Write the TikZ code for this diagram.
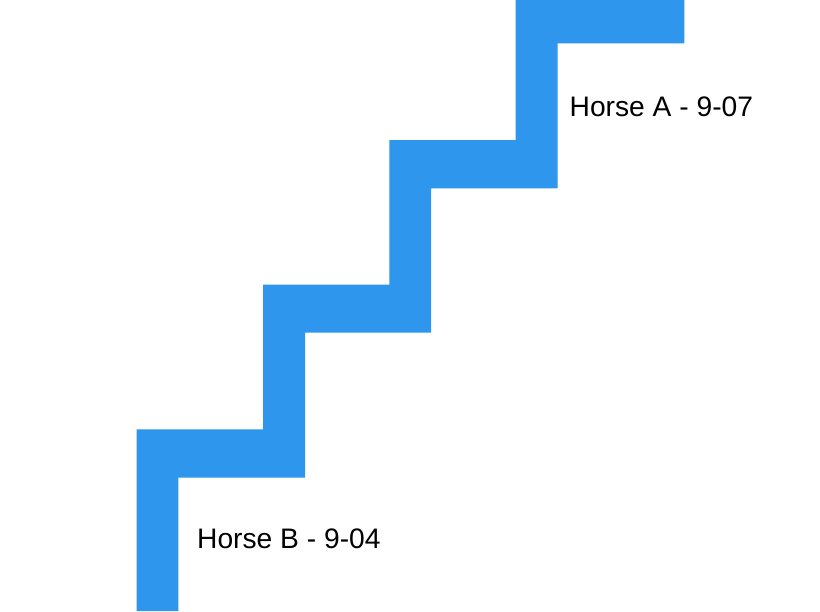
\documentclass[tikz,border=0pt]{standalone}
\usepackage{fontspec}
\setmainfont{Liberation Sans}
\definecolor{stairblue}{RGB}{46,150,236}
\tikzset{
  stair/.style={fill=stairblue, draw=none},
  horselabel/.style={anchor=base west, inner sep=0pt, font=\fontsize{28.2}{33}\selectfont, text=black}
}
\begin{document}
\begin{tikzpicture}[x=1pt,y=-1pt]
\useasboundingbox (0,0) rectangle (820,611);
\fill[white] (0,0) rectangle (820,611);
\path[stair] (136.7,611) -- (136.7,429.3) -- (263,429.3) -- (263,284.7) -- (389.3,284.7)
  -- (389.3,140) -- (515.7,140) -- (515.7,0) -- (684.3,0) -- (684.3,43.3)
  -- (557.7,43.3) -- (557.7,188.3) -- (431,188.3) -- (431,332.5) -- (305,332.5)
  -- (305,477.7) -- (178.3,477.7) -- (178.3,611) -- cycle;
\node[horselabel] (horseA) at (569.5,116.7) {Horse A - 9-07};
\node[horselabel] (horseB) at (197,548.3) {Horse B - 9-04};
\end{tikzpicture}
\end{document}
